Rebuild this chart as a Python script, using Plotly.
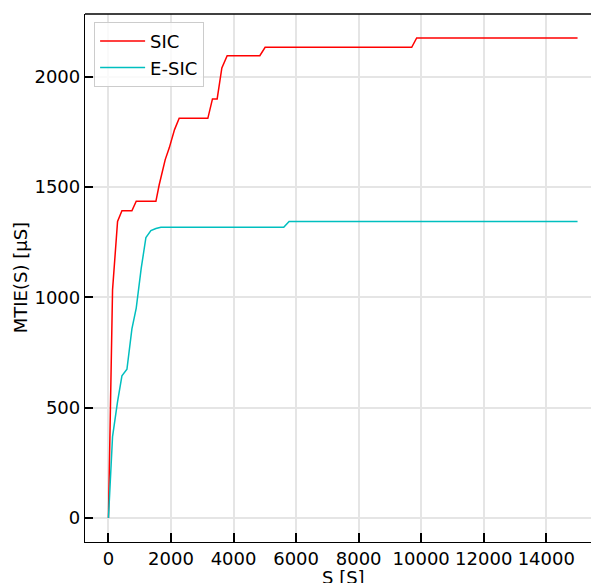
import plotly.graph_objects as go

# Data
sic_s = [0, 131, 291, 431, 750, 888, 1517, 1623, 1815, 1942, 2113, 2262, 3178, 3326,
         3476, 3626, 3796, 4840, 5010, 9697, 9856, 15000]
sic_mtie = [0, 1034, 1344, 1392, 1392, 1435, 1435, 1510, 1624, 1676, 1760, 1811, 1811, 1899,
            1899, 2039, 2095, 2095, 2133, 2133, 2175, 2175]

esic_s = [0, 131, 291, 431, 591, 750, 888, 1048, 1198, 1357, 1517, 1677, 5605, 5776, 15000]
esic_mtie = [0, 369, 527, 644, 674, 857, 951, 1132, 1271, 1302, 1312, 1317, 1317, 1344, 1344]

x_ticks = [0, 2000, 4000, 6000, 8000, 10000, 12000, 14000]
y_ticks = [0, 500, 1000, 1500, 2000]

x_title = "S [S]"
y_title = "MTIE(S) [µS]"

FONT = "DejaVu Sans"

fig = go.Figure()
fig.add_trace(go.Scatter(x=sic_s, y=sic_mtie, mode="lines", name="SIC",
                         line=dict(color="#ff0000", width=1.5)))
fig.add_trace(go.Scatter(x=esic_s, y=esic_mtie, mode="lines", name="E-SIC",
                         line=dict(color="#00bfbf", width=1.5)))

fig.update_layout(
    width=591, height=583,
    margin=dict(l=85, r=0, t=14, b=41),
    paper_bgcolor="white", plot_bgcolor="white",
    font=dict(family=FONT, size=18, color="black"),
    showlegend=True,
    legend=dict(x=0.018, y=0.985, xanchor="left", yanchor="top",
                bgcolor="rgba(255,255,255,0.8)", bordercolor="#cccccc", borderwidth=1,
                itemwidth=45, tracegroupgap=2,
                font=dict(family=FONT, size=18)),
    xaxis=dict(range=[-750, 15430], tickvals=x_ticks, ticktext=[str(v) for v in x_ticks],
               showgrid=True, gridcolor="#e5e5e5", gridwidth=1.5, zeroline=False,
               showline=True, linecolor="black", linewidth=1.3,
               ticks="inside", ticklen=9, tickwidth=2, tickcolor="black",
               tickfont=dict(size=18), automargin=False),
    yaxis=dict(range=[-108.75, 2283.75], tickvals=y_ticks, ticktext=[str(v) for v in y_ticks],
               showgrid=True, gridcolor="#e5e5e5", gridwidth=1.5, zeroline=False,
               showline=True, linecolor="black", linewidth=1.3,
               ticks="inside", ticklen=8, tickwidth=2, tickcolor="black",
               tickfont=dict(size=18), automargin=False),
)

fig.add_annotation(text=x_title, xref="paper", yref="paper", x=0.51, y=-0.0663,
                   xanchor="center", yanchor="middle", showarrow=False,
                   font=dict(family=FONT, size=18, color="black"))
fig.add_annotation(text=y_title, xref="paper", yref="paper", x=-0.128, y=0.5,
                   xanchor="center", yanchor="middle", textangle=-90, showarrow=False,
                   font=dict(family=FONT, size=18, color="black"))

fig.add_shape(type="line", xref="paper", yref="paper", x0=0, x1=1.05, y0=1, y1=1,
              line=dict(color="black", width=1.3), layer="above")

fig.write_html("out.html")
